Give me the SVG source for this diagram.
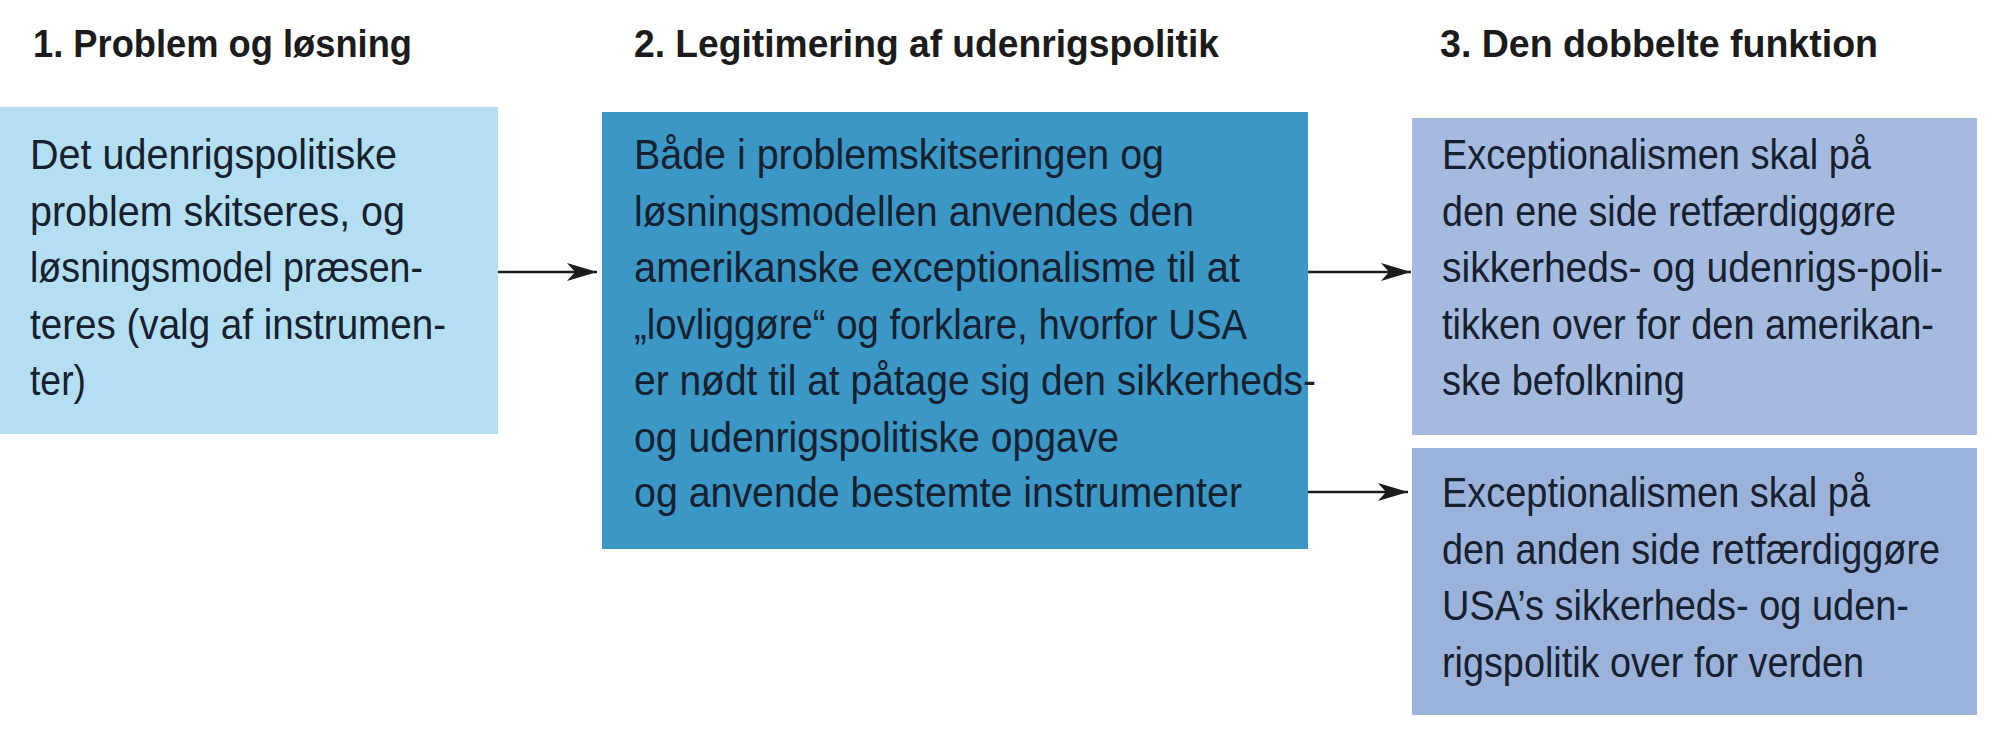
<svg xmlns="http://www.w3.org/2000/svg" width="2000" height="756" viewBox="0 0 2000 756">
<style>
.title{font-family:"Liberation Sans","DejaVu Sans",sans-serif;font-weight:bold;font-size:39px;fill:#1b1b1b}
.t{font-family:"Liberation Sans","DejaVu Sans",sans-serif;font-size:42px;fill:#16202e}
.conn{stroke:#1b1b1b;stroke-width:2.5;fill:none}
</style>
<defs>
<marker id="ah" markerUnits="userSpaceOnUse" markerWidth="32" markerHeight="20" refX="30" refY="10" orient="auto">
<path d="M0,1 L30,10 L0,19 L8,10 Z" fill="#1b1b1b"/>
</marker>
</defs>
<rect width="2000" height="756" fill="#ffffff"/>
<g id="titles">
<text class="title" x="33" y="57" textLength="379" lengthAdjust="spacingAndGlyphs">1. Problem og løsning</text>
<text class="title" x="634" y="57" textLength="585" lengthAdjust="spacingAndGlyphs">2. Legitimering af udenrigspolitik</text>
<text class="title" x="1440" y="57" textLength="438" lengthAdjust="spacingAndGlyphs">3. Den dobbelte funktion</text>
</g>
<g id="node1">
<rect x="0" y="107" width="498" height="327" fill="#b4dff2"/>
<text class="t" x="30" y="169" textLength="367" lengthAdjust="spacingAndGlyphs">Det udenrigspolitiske</text>
<text class="t" x="30" y="225.5" textLength="375" lengthAdjust="spacingAndGlyphs">problem skitseres, og</text>
<text class="t" x="30" y="282" textLength="393" lengthAdjust="spacingAndGlyphs">løsningsmodel præsen-</text>
<text class="t" x="30" y="338.5" textLength="416" lengthAdjust="spacingAndGlyphs">teres (valg af instrumen-</text>
<text class="t" x="30" y="395" textLength="56" lengthAdjust="spacingAndGlyphs">ter)</text>
</g>
<g id="node2">
<rect x="602" y="112" width="706" height="437" fill="#3b97c5"/>
<text class="t" x="634" y="169" textLength="530" lengthAdjust="spacingAndGlyphs">Både i problemskitseringen og</text>
<text class="t" x="634" y="225.5" textLength="560" lengthAdjust="spacingAndGlyphs">løsningsmodellen anvendes den</text>
<text class="t" x="634" y="282" textLength="606" lengthAdjust="spacingAndGlyphs">amerikanske exceptionalisme til at</text>
<text class="t" x="634" y="338.5" textLength="613" lengthAdjust="spacingAndGlyphs">„lovliggøre“ og forklare, hvorfor USA</text>
<text class="t" x="634" y="395" textLength="682" lengthAdjust="spacingAndGlyphs">er nødt til at påtage sig den sikkerheds-</text>
<text class="t" x="634" y="451.5" textLength="485" lengthAdjust="spacingAndGlyphs">og udenrigspolitiske opgave</text>
<text class="t" x="634" y="507" textLength="608" lengthAdjust="spacingAndGlyphs">og anvende bestemte instrumenter</text>
</g>
<g id="node3a">
<rect x="1412" y="118" width="565" height="317" fill="#a4badf"/>
<text class="t" x="1442" y="169" textLength="429" lengthAdjust="spacingAndGlyphs">Exceptionalismen skal på</text>
<text class="t" x="1442" y="225.5" textLength="454" lengthAdjust="spacingAndGlyphs">den ene side retfærdiggøre</text>
<text class="t" x="1442" y="282" textLength="501" lengthAdjust="spacingAndGlyphs">sikkerheds- og udenrigs-poli-</text>
<text class="t" x="1442" y="338.5" textLength="492" lengthAdjust="spacingAndGlyphs">tikken over for den amerikan-</text>
<text class="t" x="1442" y="395" textLength="243" lengthAdjust="spacingAndGlyphs">ske befolkning</text>
</g>
<g id="node3b">
<rect x="1412" y="448" width="565" height="267" fill="#9bb3da"/>
<text class="t" x="1442" y="507" textLength="428" lengthAdjust="spacingAndGlyphs">Exceptionalismen skal på</text>
<text class="t" x="1442" y="563.5" textLength="498" lengthAdjust="spacingAndGlyphs">den anden side retfærdiggøre</text>
<text class="t" x="1442" y="620" textLength="467" lengthAdjust="spacingAndGlyphs">USA’s sikkerheds- og uden-</text>
<text class="t" x="1442" y="676.5" textLength="422" lengthAdjust="spacingAndGlyphs">rigspolitik over for verden</text>
</g>
<g id="connectors">
<line class="conn" x1="498" y1="272" x2="597" y2="272" marker-end="url(#ah)"/>
<line class="conn" x1="1308" y1="272" x2="1411" y2="272" marker-end="url(#ah)"/>
<line class="conn" x1="1308" y1="492" x2="1408" y2="492" marker-end="url(#ah)"/>
</g>
</svg>
